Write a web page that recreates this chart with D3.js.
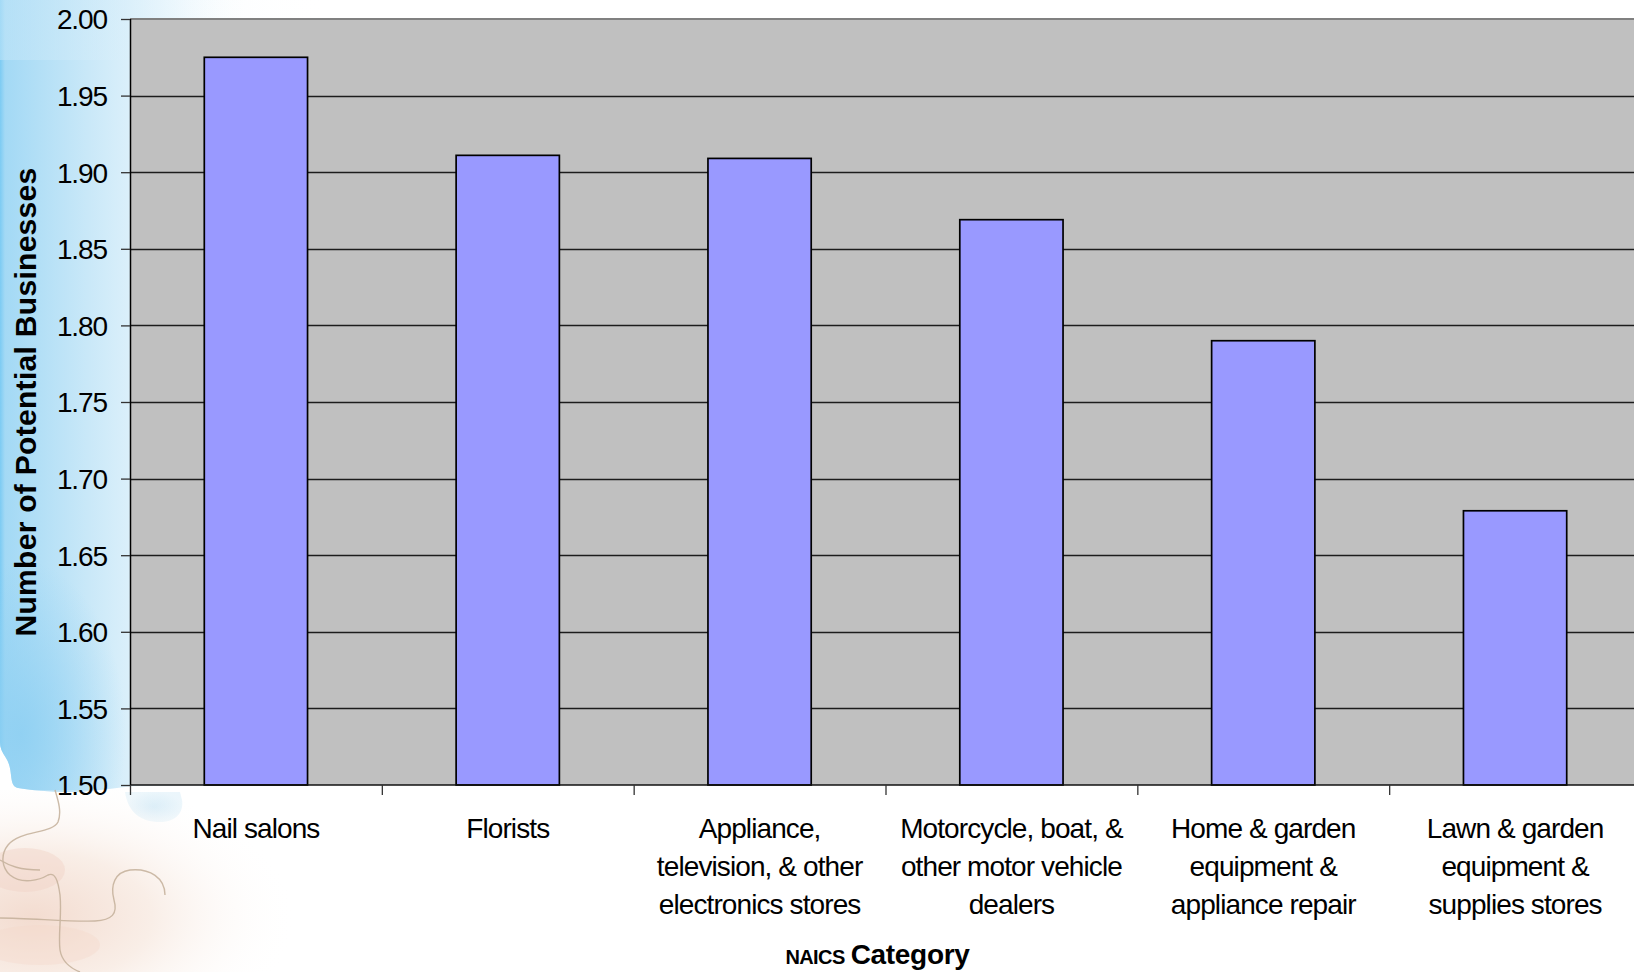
<!DOCTYPE html>
<html>
<head>
<meta charset="utf-8">
<script src="https://cdn.jsdelivr.net/npm/d3@7"></script>
<style>
  html, body { margin: 0; padding: 0; background: #ffffff; }
  svg { display: block; }
  text { font-family: "Liberation Sans", Arial, sans-serif; fill: #000; }
</style>
</head>
<body>
<svg id="chart" width="1634" height="972"></svg>
<script>
// Retail categories (NAICS) and the number of potential businesses for each
const categories = [
  "Nail salons",
  "Florists",
  "Appliance, television, & other electronics stores",
  "Motorcycle, boat, & other motor vehicle dealers",
  "Home & garden equipment & appliance repair",
  "Lawn & garden equipment & supplies stores"
];
const labelLines = [
  ["Nail salons"],
  ["Florists"],
  ["Appliance,", "television, & other", "electronics stores"],
  ["Motorcycle, boat, &", "other motor vehicle", "dealers"],
  ["Home & garden", "equipment &", "appliance repair"],
  ["Lawn & garden", "equipment &", "supplies stores"]
];
const values = [1.975, 1.911, 1.909, 1.869, 1.790, 1.679];
const yTicks = [1.50, 1.55, 1.60, 1.65, 1.70, 1.75, 1.80, 1.85, 1.90, 1.95, 2.00];
const yDomain = [1.50, 2.00];
const yTitle = "Number of Potential Businesses";
const xTitleSmall = "NAICS";
const xTitleMain = "Category";

const svg = d3.select("#chart");
const W = 1634, H = 972;
const plot = { left: 130, top: 19, right: 1641, bottom: 785 };

// ---------- slide background ----------
const defs = svg.append("defs");

const blue = defs.append("linearGradient").attr("id", "sideBlue")
  .attr("x1", 0).attr("x2", 1).attr("y1", 0).attr("y2", 0);
blue.append("stop").attr("offset", 0).attr("stop-color", "#7ccbf3");
blue.append("stop").attr("offset", 0.02).attr("stop-color", "#a3d9f5");
blue.append("stop").attr("offset", 0.35).attr("stop-color", "#c9e8f8");
blue.append("stop").attr("offset", 0.7).attr("stop-color", "#eef8fd");
blue.append("stop").attr("offset", 1).attr("stop-color", "#ffffff").attr("stop-opacity", 0);

const blueTop = defs.append("linearGradient").attr("id", "topBlue")
  .attr("x1", 0).attr("x2", 1).attr("y1", 0).attr("y2", 0);
blueTop.append("stop").attr("offset", 0).attr("stop-color", "#c4e6f8").attr("stop-opacity", 0.9);
blueTop.append("stop").attr("offset", 1).attr("stop-color", "#ffffff").attr("stop-opacity", 0);

const blueLow = defs.append("radialGradient").attr("id", "blueLow")
  .attr("cx", 0.15).attr("cy", 0.75).attr("r", 0.75);
blueLow.append("stop").attr("offset", 0).attr("stop-color", "#8dcff2").attr("stop-opacity", 0.85);
blueLow.append("stop").attr("offset", 1).attr("stop-color", "#8dcff2").attr("stop-opacity", 0);

const peach = defs.append("radialGradient").attr("id", "peach")
  .attr("cx", 0.1).attr("cy", 0.7).attr("r", 0.8);
peach.append("stop").attr("offset", 0).attr("stop-color", "#f3dcd0");
peach.append("stop").attr("offset", 0.45).attr("stop-color", "#f9eee7");
peach.append("stop").attr("offset", 1).attr("stop-color", "#ffffff").attr("stop-opacity", 0);

const knob = defs.append("radialGradient").attr("id", "knob");
knob.append("stop").attr("offset", 0).attr("stop-color", "#cfe8f6");
knob.append("stop").attr("offset", 1).attr("stop-color", "#e9f5fb");

const bg = svg.append("g").attr("class", "background");
bg.append("rect").attr("width", W).attr("height", H).attr("fill", "#ffffff");

// blue band along the left edge, ending in a puzzle-piece edge near the bottom
const blueEdge = "M0,0 L250,0 L250,786 L140,786 C120,786 100,792 70,792 C50,792 30,790 18,788 C8,786 14,770 6,758 C2,752 0,748 0,742 Z";
bg.append("path").attr("d", blueEdge).attr("fill", "url(#sideBlue)");
bg.append("path").attr("d", "M0,560 L140,560 L140,786 C120,786 100,792 70,792 C50,792 30,790 18,788 C8,786 14,770 6,758 C2,752 0,748 0,742 Z")
  .attr("fill", "url(#blueLow)");
bg.append("rect").attr("x", 0).attr("y", 0).attr("width", 330).attr("height", 60)
  .attr("fill", "url(#topBlue)").attr("opacity", 0.6);

// light blue tab below the axis corner
bg.append("path")
  .attr("d", "M125,792 C128,812 140,822 160,822 C176,822 184,812 182,800 L180,792 Z")
  .attr("fill", "url(#knob)").attr("opacity", 0.9);

// warm puzzle area in the lower-left corner
bg.append("rect").attr("x", 0).attr("y", 790).attr("width", 330).attr("height", 182)
  .attr("fill", "url(#peach)");
bg.append("ellipse").attr("cx", 25).attr("cy", 870).attr("rx", 40).attr("ry", 22)
  .attr("fill", "#f1cfc2").attr("opacity", 0.4);
bg.append("ellipse").attr("cx", 40).attr("cy", 945).attr("rx", 60).attr("ry", 20)
  .attr("fill", "#f3d6c8").attr("opacity", 0.35);

const puzzle = bg.append("g").attr("fill", "none").attr("stroke", "#c4b09a")
  .attr("stroke-width", 1.4).attr("opacity", 0.85);
puzzle.append("path")
  .attr("d", "M55,790 C58,800 62,812 58,822 C52,834 20,830 8,845 C0,855 2,868 10,875 C22,885 40,880 48,875 C55,872 58,880 60,895 C62,915 58,935 60,950 C62,962 70,968 80,972");
puzzle.append("path")
  .attr("d", "M0,918 C30,918 70,922 95,921 C112,920 118,914 114,900 C110,885 115,872 130,870 C150,868 165,878 165,895");
puzzle.append("path")
  .attr("d", "M0,860 C10,866 20,870 40,870");

// ---------- scales ----------
const x = d3.scaleBand()
  .domain(categories)
  .range([plot.left, plot.right])
  .paddingInner(0.59)
  .paddingOuter(0.295);

const y = d3.scaleLinear()
  .domain(yDomain)
  .range([plot.bottom, plot.top]);

// ---------- plot area ----------
svg.append("rect")
  .attr("x", plot.left).attr("y", plot.top)
  .attr("width", plot.right - plot.left).attr("height", plot.bottom - plot.top)
  .attr("fill", "#c0c0c0");

// horizontal gridlines
svg.append("g").attr("class", "grid")
  .selectAll("line")
  .data(yTicks.filter(t => t > yDomain[0] && t < yDomain[1]))
  .join("line")
  .attr("x1", plot.left).attr("x2", plot.right)
  .attr("y1", d => Math.round(y(d)) + 0.5).attr("y2", d => Math.round(y(d)) + 0.5)
  .attr("stroke", "#1c1c1c").attr("stroke-width", 1.3);

// top border of the plot area
svg.append("line")
  .attr("x1", plot.left).attr("x2", plot.right)
  .attr("y1", plot.top).attr("y2", plot.top)
  .attr("stroke", "#808080").attr("stroke-width", 2);

// bars
svg.append("g").attr("class", "bars")
  .selectAll("rect")
  .data(values)
  .join("rect")
  .attr("x", (d, i) => x(categories[i]))
  .attr("y", d => y(d))
  .attr("width", x.bandwidth())
  .attr("height", d => y(yDomain[0]) - y(d))
  .attr("fill", "#9999ff")
  .attr("stroke", "#000")
  .attr("stroke-width", 1.7);

// ---------- y axis ----------
const yAxis = d3.axisLeft(y)
  .tickValues(yTicks)
  .tickFormat(d3.format(".2f"))
  .tickSize(9)
  .tickPadding(14);

const gy = svg.append("g")
  .attr("transform", `translate(${plot.left},0)`)
  .call(yAxis);
gy.select(".domain").attr("stroke", "#000").attr("stroke-width", 1.5)
  .attr("d", `M0.5,${plot.top}V${plot.bottom}`);
gy.selectAll(".tick line").attr("stroke", "#333").attr("stroke-width", 1.3);
gy.selectAll(".tick text")
  .attr("font-family", '"Liberation Sans", Arial, sans-serif')
  .attr("font-size", 28)
  .attr("letter-spacing", -1.1)
  .attr("fill", "#000")
  .attr("dy", "0.35em");

// ---------- x axis ----------
const boundaries = d3.range(categories.length + 1).map(i => plot.left + i * x.step());
const gx = svg.append("g").attr("class", "x-axis");
gx.append("line")
  .attr("x1", plot.left).attr("x2", plot.right)
  .attr("y1", plot.bottom).attr("y2", plot.bottom)
  .attr("stroke", "#111").attr("stroke-width", 1.6);
gx.selectAll("line.tick")
  .data(boundaries)
  .join("line").attr("class", "tick")
  .attr("x1", d => d + 0.5).attr("x2", d => d + 0.5)
  .attr("y1", plot.bottom).attr("y2", plot.bottom + 10)
  .attr("stroke", "#333").attr("stroke-width", 1.3);

const labels = gx.selectAll("text.cat")
  .data(categories)
  .join("text").attr("class", "cat")
  .attr("text-anchor", "middle")
  .attr("font-size", 28)
  .attr("letter-spacing", -0.9)
  .attr("transform", d => `translate(${x(d) + x.bandwidth() / 2},838)`);
labels.each(function(d, i) {
  d3.select(this).selectAll("tspan")
    .data(labelLines[i])
    .join("tspan")
    .attr("x", 0)
    .attr("y", (t, j) => j * 38)
    .text(t => t);
});

// ---------- axis titles ----------
svg.append("text")
  .attr("transform", `translate(36,${(plot.top + plot.bottom) / 2}) rotate(-90)`)
  .attr("text-anchor", "middle")
  .attr("font-size", 30)
  .attr("font-weight", "bold")
  .attr("letter-spacing", 0.3)
  .text(yTitle);

const xt = svg.append("text")
  .attr("x", (788 + 967) / 2)
  .attr("y", 964)
  .attr("text-anchor", "middle")
  .attr("font-weight", "bold");
xt.append("tspan").attr("font-size", 20).attr("letter-spacing", -0.6).text(xTitleSmall);
xt.append("tspan").attr("font-size", 28).attr("dx", 6).attr("letter-spacing", -0.3).text(xTitleMain);
</script>
</body>
</html>
